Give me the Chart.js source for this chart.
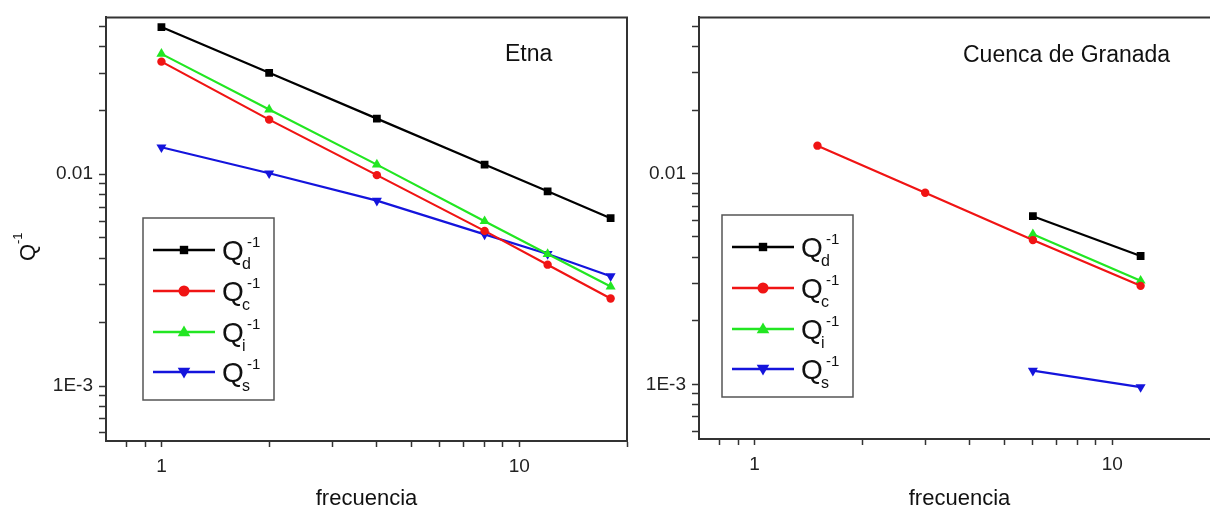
<!DOCTYPE html>
<html>
<head>
<meta charset="utf-8">
<script src="https://cdn.jsdelivr.net/npm/chart.js@4/dist/chart.umd.min.js"></script>
<style>
  html, body { margin:0; padding:0; background:#fff; width:1210px; height:510px; overflow:hidden; }
  #wrapL { position:absolute; left:0; top:0; width:640px; height:510px; }
  #wrapR { position:absolute; left:640px; top:0; width:600px; height:510px; }
</style>
</head>
<body>
<div id="wrapL"><canvas id="cL" width="640" height="510"></canvas></div>
<div id="wrapR"><canvas id="cR" width="600" height="510"></canvas></div>
<script>
// ---- data ----
const freqEtna = [1, 2, 4, 8, 12, 18];
const etnaQd = [0.0495, 0.0301, 0.0183, 0.0111, 0.0083, 0.0062];
const etnaQc = [0.0340, 0.0181, 0.0099, 0.0054, 0.00374, 0.00259];
const etnaQi = [0.0370, 0.0202, 0.0111, 0.0060, 0.0042, 0.00295];
const etnaQs = [0.0134, 0.0101, 0.0075, 0.0052, 0.0042, 0.0033];

const freqGranadaQc = [1.5, 3, 6, 12];
const granadaQc = [0.01355, 0.0081, 0.00483, 0.00293];
const freqGranada = [6, 12];
const granadaQd = [0.00627, 0.00406];
const granadaQi = [0.00515, 0.0031];
const granadaQs = [0.00116, 0.00097];

const seriesNames = ['d', 'c', 'i', 's'];
const xTickValues = [0.8, 0.9, 1, 2, 3, 4, 5, 6, 7, 8, 9, 10, 20];
const xTickLabels = { '1': '1', '10': '10' };
const yTickValues = [0.0006, 0.0007, 0.0008, 0.0009, 0.001, 0.002, 0.003, 0.004, 0.005, 0.006, 0.007, 0.008, 0.009, 0.01, 0.02, 0.03, 0.04, 0.05];
const yTickLabels = { '0.01': '0.01', '0.001': '1E-3' };
const xLabel = 'frecuencia';
const panelTitles = ['Etna', 'Cuenca de Granada'];

// ---- styles ----
const colors = { d: '#000000', c: '#f01414', i: '#22e622', s: '#1414dc' };
const styles = {
  d: { pointStyle: 'rect', pointRadius: 5.5, rotation: 0 },
  c: { pointStyle: 'circle', pointRadius: 4.2, rotation: 0 },
  i: { pointStyle: 'triangle', pointRadius: 5.8, rotation: 0 },
  s: { pointStyle: 'triangle', pointRadius: 5.8, rotation: 180 }
};
const FONT = '"Liberation Sans", Arial, sans-serif';
const AXIS = '#333333';

function zip(xs, ys) { return xs.map((x, i) => ({ x: x, y: ys[i] })); }
function ds(key, xs, ys) {
  const st = styles[key];
  return {
    label: 'Q' + key, key: key, data: zip(xs, ys),
    borderColor: colors[key], backgroundColor: colors[key],
    borderWidth: 2.2, pointStyle: st.pointStyle, pointRadius: st.pointRadius,
    pointRotation: st.rotation, pointBorderWidth: 0, pointBackgroundColor: colors[key],
    tension: 0, fill: false
  };
}
function lookup(map, v) {
  for (const k in map) { if (Math.abs(+k - v) / +k < 1e-6) return map[k]; }
  return '';
}

function drawMarker(ctx, key, x, y, r) {
  ctx.save();
  ctx.fillStyle = colors[key];
  ctx.beginPath();
  if (key === 'd') { ctx.rect(x - r, y - r, 2 * r, 2 * r); }
  else if (key === 'c') { ctx.arc(x, y, r, 0, Math.PI * 2); }
  else if (key === 'i') { ctx.moveTo(x, y - r * 1.1); ctx.lineTo(x + r * 1.05, y + r * 0.7); ctx.lineTo(x - r * 1.05, y + r * 0.7); ctx.closePath(); }
  else { ctx.moveTo(x, y + r * 1.1); ctx.lineTo(x + r * 1.05, y - r * 0.7); ctx.lineTo(x - r * 1.05, y - r * 0.7); ctx.closePath(); }
  ctx.fill();
  ctx.restore();
}

function drawQ(ctx, x, yMid, sub) {
  // Q with stacked subscript and superscript "-1"
  ctx.save();
  ctx.fillStyle = '#111';
  ctx.textBaseline = 'alphabetic';
  ctx.textAlign = 'left';
  ctx.font = '28px ' + FONT;
  ctx.fillText('Q', x, yMid + 10);
  ctx.font = '16px ' + FONT;
  if (sub) ctx.fillText(sub, x + 20, yMid + 19);
  ctx.font = '15px ' + FONT;
  ctx.fillText('-1', x + 25, yMid - 3);
  ctx.restore();
}

function framePlugin(opts) {
  return {
    id: 'frame',
    afterDraw(chart) {
      const ctx = chart.ctx, a = chart.chartArea;
      ctx.save();
      ctx.strokeStyle = AXIS;
      ctx.lineWidth = 2;
      ctx.beginPath();
      ctx.moveTo(a.left, a.top); ctx.lineTo(a.right, a.top); ctx.lineTo(a.right, a.bottom);
      ctx.stroke();
      // panel label
      ctx.fillStyle = '#111';
      ctx.font = '23px ' + FONT;
      ctx.textBaseline = 'middle';
      ctx.textAlign = 'left';
      ctx.fillText(opts.title, opts.titleX, opts.titleY);
      // legend box
      const bx = opts.legend.x, by = opts.legend.y;
      ctx.strokeStyle = '#555';
      ctx.lineWidth = 1.5;
      ctx.strokeRect(bx, by, 131, 182);
      const rowY = [32, 73, 114, 154];
      seriesNames.forEach((k, i) => {
        const y = by + rowY[i];
        ctx.strokeStyle = colors[k];
        ctx.lineWidth = 2.5;
        ctx.beginPath(); ctx.moveTo(bx + 10, y); ctx.lineTo(bx + 72, y); ctx.stroke();
        drawMarker(ctx, k, bx + 41, y, k === 'd' ? 4.2 : (k === 'c' ? 5.5 : 6));
        drawQ(ctx, bx + 79, y, k);
      });
      // y-axis title
      if (opts.yTitle) {
        ctx.save();
        ctx.translate(opts.yTitle.x, opts.yTitle.y);
        ctx.rotate(-Math.PI / 2);
        ctx.fillStyle = '#111';
        ctx.textBaseline = 'alphabetic';
        ctx.textAlign = 'left';
        ctx.font = '22px ' + FONT;
        ctx.fillText('Q', -9, 8);
        ctx.font = '13px ' + FONT;
        ctx.fillText('-1', 8, -5);
        ctx.restore();
      }
      ctx.restore();
    }
  };
}

function makeChart(id, datasets, cfg) {
  return new Chart(document.getElementById(id), {
    type: 'line',
    data: { datasets: datasets },
    options: {
      responsive: false,
      animation: false,
      layout: { padding: { left: 0, right: cfg.padRight, top: cfg.padTop, bottom: 0 } },
      plugins: { legend: { display: false }, tooltip: { enabled: false } },
      scales: {
        x: {
          type: 'logarithmic', min: 0.7, max: 20,
          afterBuildTicks: s => { s.ticks = xTickValues.map(v => ({ value: v })); },
          afterFit: s => { s.height = cfg.xHeight; },
          ticks: { autoSkip: false, maxRotation: 0, padding: 8, color: '#222',
                   font: { family: FONT, size: 19 }, callback: v => lookup(xTickLabels, v) },
          grid: { drawOnChartArea: false, drawTicks: true, tickLength: 6, tickColor: AXIS, tickWidth: 1.5 },
          border: { display: true, color: AXIS, width: 2 },
          title: { display: true, text: xLabel, color: '#111', font: { family: FONT, size: 22, lineHeight: 1 },
                   padding: { top: 0, bottom: 0 } }
        },
        y: {
          type: 'logarithmic', min: 0.00055, max: 0.055,
          afterBuildTicks: s => { s.ticks = yTickValues.map(v => ({ value: v })); },
          afterFit: s => { s.width = cfg.yWidth; },
          ticks: { autoSkip: false, padding: 6, color: '#222',
                   font: { family: FONT, size: 19 }, callback: v => lookup(yTickLabels, v) },
          grid: { drawOnChartArea: false, drawTicks: true, tickLength: 7, tickColor: AXIS, tickWidth: 1.5 },
          border: { display: true, color: AXIS, width: 2 }
        }
      }
    },
    plugins: [framePlugin(cfg)]
  });
}

makeChart('cL', [
  ds('d', freqEtna, etnaQd),
  ds('c', freqEtna, etnaQc),
  ds('i', freqEtna, etnaQi),
  ds('s', freqEtna, etnaQs)
], {
  padRight: 13, padTop: 16, xHeight: 69, yWidth: 106,
  title: panelTitles[0], titleX: 505, titleY: 55,
  legend: { x: 143, y: 218 },
  yTitle: { x: 27, y: 252 }
});

makeChart('cR', [
  ds('d', freqGranada, granadaQd),
  ds('c', freqGranadaQc, granadaQc),
  ds('i', freqGranada, granadaQi),
  ds('s', freqGranada, granadaQs)
], {
  padRight: 20, padTop: 14, xHeight: 71, yWidth: 59,
  title: panelTitles[1], titleX: 323, titleY: 56,
  legend: { x: 82, y: 215 },
  yTitle: null
});
</script>
</body>
</html>
